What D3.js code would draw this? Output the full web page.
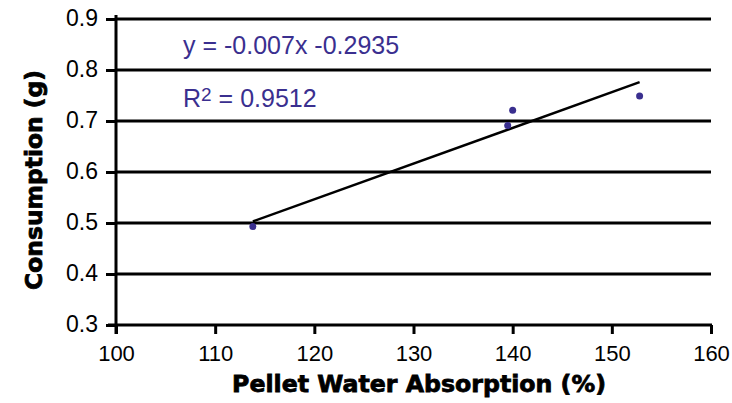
<!DOCTYPE html>
<html><head><meta charset="utf-8">
<script src="https://cdn.jsdelivr.net/npm/d3@7"></script>
<style>body{margin:0;background:#fff}</style>
</head><body>
<svg id="c" width="732" height="403"></svg>
<script>
const pointsX = [113.8, 139.5, 140.0, 152.8];
const pointsY = [0.493, 0.691, 0.721, 0.749];
const trendSlope = 0.007;
const trendIntercept = -0.2935;
const xTicks = [100, 110, 120, 130, 140, 150, 160];
const yTicks = [0.3, 0.4, 0.5, 0.6, 0.7, 0.8, 0.9];
const eqText = "y = -0.007x -0.2935";
const r2Value = "0.9512";
const xTitle = "Pellet Water Absorption (%)";
const yTitle = "Consumption (g)";

const svg = d3.select("#c");
const x = d3.scaleLinear().domain([100, 160]).range([116, 711]);
const y = d3.scaleLinear().domain([0.3, 0.9]).range([325, 19]);
const font = "'Liberation Sans', Arial, sans-serif";
const boldFont = "'DejaVu Sans', 'Liberation Sans', Arial, sans-serif";

// gridlines
svg.append("g").selectAll("line").data(yTicks.filter(d => d > 0.3)).join("line")
  .attr("x1", x(100)).attr("x2", x(160)).attr("y1", d => y(d)).attr("y2", d => y(d))
  .attr("stroke", "#000").attr("stroke-width", 3);

// y axis
const ya = svg.append("g").attr("transform", `translate(${x(100)},0)`)
  .call(d3.axisLeft(y).tickValues(yTicks).tickFormat(d3.format(".1f")).tickSize(10).tickPadding(8));
ya.select(".domain").attr("stroke-width", 3).attr("d", `M0,${y(0.9)-4}V${y(0.3)+9}`);
ya.selectAll(".tick line").attr("stroke-width", 3);
ya.selectAll("text").attr("font-family", font).attr("font-size", 23).attr("fill", "#000")
  .attr("dy", "0.27em");

// x axis
const xa = svg.append("g").attr("transform", `translate(0,${y(0.3)})`)
  .call(d3.axisBottom(x).tickValues(xTicks).tickSize(9).tickPadding(11));
xa.select(".domain").attr("stroke-width", 3).attr("d", `M${x(100)-8},0H${x(160)+1}`);
xa.selectAll(".tick line").attr("stroke-width", 3);
xa.selectAll("text").attr("font-family", font).attr("font-size", 22).attr("fill", "#000");

// trendline
const x0 = d3.min(pointsX), x1 = d3.max(pointsX);
svg.append("line")
  .attr("x1", x(x0)).attr("y1", y(trendSlope * x0 + trendIntercept))
  .attr("x2", x(x1)).attr("y2", y(trendSlope * x1 + trendIntercept))
  .attr("stroke", "#000").attr("stroke-width", 2.5);

// points
svg.append("g").selectAll("circle").data(pointsX).join("circle")
  .attr("cx", d => x(d)).attr("cy", (d, i) => y(pointsY[i])).attr("r", 3.5)
  .attr("fill", "#3a2f8f");

// equation
svg.append("text").attr("x", 183).attr("y", 54).attr("font-family", font).attr("font-size", 25)
  .attr("fill", "#3a2f8f").text(eqText);
const r2 = svg.append("text").attr("x", 183).attr("y", 107).attr("font-family", font).attr("font-size", 25)
  .attr("fill", "#3a2f8f");
r2.append("tspan").text("R");
r2.append("tspan").attr("font-size", 19).attr("dy", -6).text("2");
r2.append("tspan").attr("dy", 6).text(" = " + r2Value);

// axis titles (fit to reference widths)
function fitText(sel, targetW) {
  const w = sel.node().getComputedTextLength();
  const fs = parseFloat(sel.attr("font-size"));
  sel.attr("font-size", fs * targetW / w);
}
const xt = svg.append("text").attr("x", 419).attr("y", 392).attr("text-anchor", "middle")
  .attr("font-family", boldFont).attr("font-weight", "bold").attr("font-size", 20)
  .attr("fill", "#000").attr("stroke", "#000").attr("stroke-width", 0.8).text(xTitle);
fitText(xt, 374);
const yt = svg.append("text").attr("transform", "translate(42,180) rotate(-90)").attr("text-anchor", "middle")
  .attr("font-family", boldFont).attr("font-weight", "bold").attr("font-size", 20)
  .attr("fill", "#000").attr("stroke", "#000").attr("stroke-width", 0.8).text(yTitle);
fitText(yt, 220);
</script>
</body></html>
